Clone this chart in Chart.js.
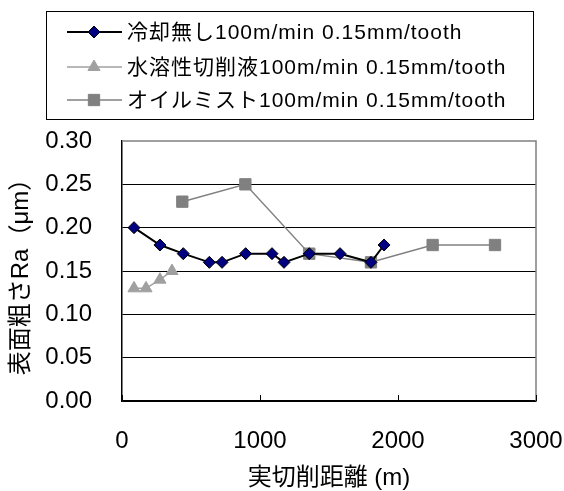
<!DOCTYPE html>
<html>
<head>
<meta charset="utf-8">
<script src="https://cdn.jsdelivr.net/npm/chart.js@4/dist/chart.umd.min.js"></script>
<style>
  html, body { margin: 0; padding: 0; background: #fff; }
</style>
</head>
<body>
<canvas id="chart" width="564" height="491"></canvas>
<script>
// 実切削距離 (m) と 表面粗さRa (μm)
const seriesNames = [
  '冷却無し100m/min 0.15mm/tooth',
  '水溶性切削液100m/min 0.15mm/tooth',
  'オイルミスト100m/min 0.15mm/tooth'
];
const dryX = [87, 275, 444, 633, 725, 896, 1087, 1174, 1357, 1580, 1804, 1899];
const dryY = [0.20, 0.18, 0.17, 0.16, 0.16, 0.17, 0.17, 0.16, 0.17, 0.17, 0.16, 0.18];
const wetX = [87, 174, 275, 362];
const wetY = [0.13, 0.13, 0.14, 0.15];
const mistX = [437, 894, 1357, 1804, 2251, 2703];
const mistY = [0.23, 0.25, 0.17, 0.16, 0.18, 0.18];
const xTicks = [0, 1000, 2000, 3000];
const yTicks = [0.00, 0.05, 0.10, 0.15, 0.20, 0.25, 0.30];
const xTitle = '実切削距離 (m)';
const yTitle = '表面粗さRa（μm）';

const FONT = "'Liberation Sans', Arial, 'Noto Sans CJK JP', sans-serif";

function toPoints(xs, ys) {
  return xs.map((x, i) => ({ x: x, y: ys[i] }));
}

// legend box with line + marker, drawn like the original
const legendBox = {
  id: 'legendBox',
  afterDraw(chart) {
    const ctx = chart.ctx;
    const rowsY = [32, 67, 100];
    ctx.save();
    ctx.strokeStyle = '#000';
    ctx.lineWidth = 1;
    ctx.strokeRect(46.5, 11.5, 487, 108);
    chart.data.datasets.forEach((ds, i) => {
      const y = rowsY[i];
      ctx.strokeStyle = ds.borderColor;
      ctx.lineWidth = ds.borderWidth;
      ctx.beginPath();
      ctx.moveTo(67, y);
      ctx.lineTo(122, y);
      ctx.stroke();
      ctx.fillStyle = ds.pointBackgroundColor;
      ctx.strokeStyle = ds.pointBorderColor;
      ctx.lineWidth = ds.pointBorderWidth;
      Chart.helpers.drawPoint(ctx, {
        pointStyle: ds.pointStyle,
        radius: ds.pointRadius,
        rotation: 0,
        borderWidth: ds.pointBorderWidth
      }, 94, y);
      ctx.fillStyle = '#000';
      ctx.font = '21px ' + FONT;
      ctx.letterSpacing = '1px';
      ctx.textBaseline = 'middle';
      ctx.textAlign = 'left';
      ctx.fillText(ds.label, 127, y + 1);
    });
    ctx.restore();
  }
};

// gray top/right frame and small inward ticks on the x axis
const frame = {
  id: 'frame',
  afterDatasetsDraw(chart) {
    const ctx = chart.ctx;
    const a = chart.chartArea;
    const xs = chart.scales.x;
    ctx.save();
    ctx.strokeStyle = '#808080';
    ctx.lineWidth = 1.5;
    ctx.beginPath();
    ctx.moveTo(a.left, a.top);
    ctx.lineTo(a.right, a.top);
    ctx.lineTo(a.right, a.bottom);
    ctx.stroke();
    ctx.strokeStyle = '#000';
    ctx.lineWidth = 1;
    xTicks.forEach(v => {
      const px = Math.round(xs.getPixelForValue(v)) + 0.5;
      ctx.beginPath();
      ctx.moveTo(px, a.bottom);
      ctx.lineTo(px, a.bottom - 6);
      ctx.stroke();
    });
    ctx.restore();
  }
};

new Chart(document.getElementById('chart'), {
  type: 'scatter',
  data: {
    datasets: [{
      label: seriesNames[0],
      data: toPoints(dryX, dryY),
      showLine: true,
      borderColor: '#000000',
      borderWidth: 2,
      pointStyle: 'rectRot',
      pointRadius: 6,
      pointHoverRadius: 6,
      pointBackgroundColor: '#000080',
      pointBorderColor: '#000000',
      pointBorderWidth: 1
    }, {
      label: seriesNames[1],
      data: toPoints(wetX, wetY),
      showLine: true,
      borderColor: '#a0a0a0',
      borderWidth: 1.5,
      pointStyle: 'triangle',
      pointRadius: 7,
      pointHoverRadius: 7,
      pointBackgroundColor: '#a0a0a0',
      pointBorderColor: '#a0a0a0',
      pointBorderWidth: 1
    }, {
      label: seriesNames[2],
      data: toPoints(mistX, mistY),
      showLine: true,
      borderColor: '#808080',
      borderWidth: 1.5,
      pointStyle: 'rect',
      pointRadius: 8,
      pointHoverRadius: 8,
      pointBackgroundColor: '#808080',
      pointBorderColor: '#808080',
      pointBorderWidth: 1
    }]
  },
  options: {
    responsive: false,
    animation: false,
    layout: { padding: { top: 141, right: 0, left: 0, bottom: 0 } },
    plugins: {
      legend: { display: false },
      tooltip: { enabled: false }
    },
    scales: {
      x: {
        type: 'linear',
        min: 0,
        max: 3000,
        afterFit: s => { s.height = 90; s.paddingLeft = 0; s.paddingRight = 28; },
        afterBuildTicks: s => { s.ticks = xTicks.map(v => ({ value: v })); },
        grid: { display: false, drawTicks: false },
        border: { color: '#000', width: 1.5 },
        ticks: {
          color: '#000',
          padding: 26,
          maxRotation: 0,
          font: { family: FONT, size: 24 },
          callback: v => String(v)
        },
        title: {
          display: true,
          text: xTitle,
          color: '#000',
          font: { family: FONT, size: 24, lineHeight: 1 },
          padding: { top: 0, bottom: 1 }
        }
      },
      y: {
        min: 0,
        max: 0.3,
        afterFit: s => { s.width = 122; },
        afterBuildTicks: s => { s.ticks = yTicks.map(v => ({ value: v })); },
        grid: {
          drawTicks: false,
          color: c => (c.tick && c.tick.value >= 0.3) ? 'rgba(0,0,0,0)' : '#000',
          lineWidth: 1
        },
        border: { color: '#000', width: 1.5 },
        ticks: {
          color: '#000',
          padding: 30,
          font: { family: FONT, size: 24 },
          callback: v => v.toFixed(2)
        },
        title: {
          display: true,
          text: yTitle,
          color: '#000',
          font: { family: FONT, size: 24, lineHeight: 1 },
          padding: { top: 9, bottom: 0 }
        }
      }
    }
  },
  plugins: [legendBox, frame]
});
</script>
</body>
</html>
